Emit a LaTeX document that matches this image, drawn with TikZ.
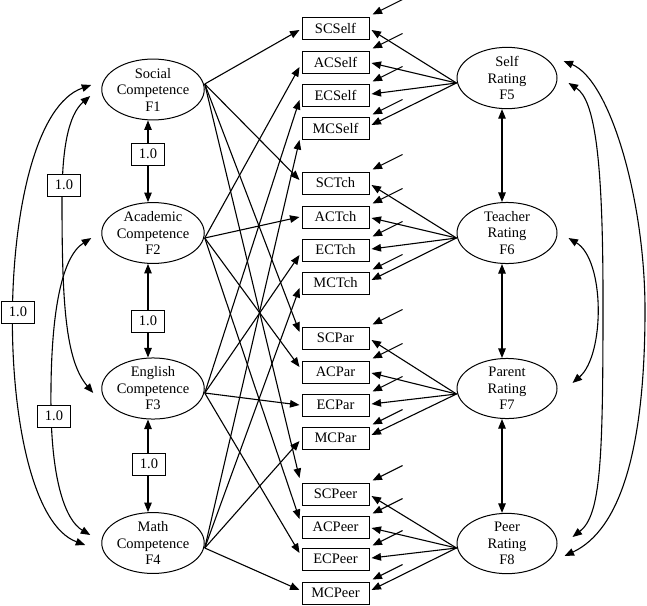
\documentclass[tikz,border=0pt]{standalone}
\usepackage{fontspec}
\setmainfont{Liberation Serif}
\usetikzlibrary{arrows.meta,shapes.geometric}
\begin{document}
\begin{tikzpicture}[x=1pt,y=-1pt,
  every node/.style={font=\fontsize{14.5}{16.5}\selectfont},
  fac/.style={draw, ellipse, line width=1pt, minimum width=100pt, minimum height=55pt, inner sep=0pt, align=center},
  ind/.style={draw, rectangle, line width=1pt, minimum width=67pt, minimum height=22pt, inner sep=0pt},
  lab/.style={draw, fill=white, rectangle, line width=1pt, minimum width=33pt, minimum height=22pt, inner sep=0pt},
  arr/.style={line width=1.1pt, -{Triangle[length=9.5pt,width=7.5pt]}},
  darr/.style={line width=1.1pt, {Triangle[length=9.5pt,width=7.5pt]}-{Triangle[length=9.5pt,width=7.5pt]}},
]
\useasboundingbox (0,0) rectangle (647,605);

% trait factors
\node[fac] (F1) at (153,89.5) {Social\\Competence\\F1};
\node[fac] (F2) at (153,233) {Academic\\Competence\\F2};
\node[fac] (F3) at (153,388.5) {English\\Competence\\F3};
\node[fac] (F4) at (153,543) {Math\\Competence\\F4};
% method factors
\node[fac] (F5) at (507,78) {Self\\Rating\\F5};
\node[fac] (F6) at (507,233) {Teacher\\Rating\\F6};
\node[fac] (F7) at (507,388.5) {Parent\\Rating\\F7};
\node[fac] (F8) at (507,543.5) {Peer\\Rating\\F8};

% indicators
\node[ind] (SCSelf) at (335.5,28) {SCSelf};
\node[ind] (ACSelf) at (335.5,62) {ACSelf};
\node[ind] (ECSelf) at (335.5,95) {ECSelf};
\node[ind] (MCSelf) at (335.5,128) {MCSelf};
\node[ind] (SCTch) at (335.5,183) {SCTch};
\node[ind] (ACTch) at (335.5,217) {ACTch};
\node[ind] (ECTch) at (335.5,250) {ECTch};
\node[ind] (MCTch) at (335.5,283) {MCTch};
\node[ind] (SCPar) at (335.5,338) {SCPar};
\node[ind] (ACPar) at (335.5,372) {ACPar};
\node[ind] (ECPar) at (335.5,405) {ECPar};
\node[ind] (MCPar) at (335.5,438) {MCPar};
\node[ind] (SCPeer) at (335.5,494) {SCPeer};
\node[ind] (ACPeer) at (335.5,527) {ACPeer};
\node[ind] (ECPeer) at (335.5,559) {ECPeer};
\node[ind] (MCPeer) at (335.5,593) {MCPeer};

% convergence points
\coordinate (F1e) at ([shift={(0,-5.5)}]F1.east);
\coordinate (F2e) at ([shift={(0,5)}]F2.east);
\coordinate (F3e) at ([shift={(0,4.5)}]F3.east);
\coordinate (F4e) at ([shift={(0,5)}]F4.east);
\coordinate (F5w) at ([shift={(0,5)}]F5.west);
\coordinate (F6w) at ([shift={(0,5)}]F6.west);
\coordinate (F7w) at ([shift={(0,5.5)}]F7.west);
\coordinate (F8w) at ([shift={(0,4.5)}]F8.west);

% trait loadings
\draw[arr] (F1e) -- ([shift={(-2,2)}]SCSelf.west);
\draw[arr] (F1e) -- ([shift={(-2,-3)}]SCTch.west);
\draw[arr] (F1e) -- ([shift={(-2,-6)}]SCPar.west);
\draw[arr] (F1e) -- ([shift={(-2,-16)}]SCPeer.west);
\draw[arr] (F2e) -- ([shift={(-2,5)}]ACSelf.west);
\draw[arr] (F2e) -- ([shift={(-2,0)}]ACTch.west);
\draw[arr] (F2e) -- ([shift={(-2,-5)}]ACPar.west);
\draw[arr] (F2e) -- ([shift={(-2,-8)}]ACPeer.west);
\draw[arr] (F3e) -- ([shift={(-2,5)}]ECSelf.west);
\draw[arr] (F3e) -- ([shift={(-2,5)}]ECTch.west);
\draw[arr] (F3e) -- ([shift={(-2,0)}]ECPar.west);
\draw[arr] (F3e) -- ([shift={(-2,-6)}]ECPeer.west);
\draw[arr] (F4e) -- ([shift={(-2,12)}]MCSelf.west);
\draw[arr] (F4e) -- ([shift={(-2,5)}]MCTch.west);
\draw[arr] (F4e) -- ([shift={(-2,3)}]MCPar.west);
\draw[arr] (F4e) -- ([shift={(-2,-3)}]MCPeer.west);

% method loadings
\foreach \m/\a/\b/\c/\d in {F5w/SCSelf/ACSelf/ECSelf/MCSelf, F6w/SCTch/ACTch/ECTch/MCTch, F7w/SCPar/ACPar/ECPar/MCPar, F8w/SCPeer/ACPeer/ECPeer/MCPeer}{
  \draw[arr] (\m) -- ([shift={(2,2)}]\a.east);
  \draw[arr] (\m) -- ([shift={(2,1)}]\b.east);
  \draw[arr] (\m) -- ([shift={(2,-1)}]\c.east);
  \draw[arr] (\m) -- ([shift={(2,-3)}]\d.east);
}

% error terms
\foreach \n in {SCSelf,ACSelf,ECSelf,MCSelf,SCTch,ACTch,ECTch,MCTch,SCPar,ACPar,ECPar,MCPar,SCPeer,ACPeer,ECPeer,MCPeer}{
  \coordinate (e\n) at ([shift={(33,-17)}]\n.north east);
  \draw[arr] (e\n) -- ([shift={(3,-2)}]\n.north east);
}

% factor correlations (vertical)
\draw[darr] ([shift={(-5,0)}]F1.south) -- ([shift={(-5,0)}]F2.north);
\draw[darr] ([shift={(-5,0)}]F2.south) -- ([shift={(-5,0)}]F3.north);
\draw[darr] ([shift={(-5,0)}]F3.south) -- ([shift={(-5,0)}]F4.north);
\draw[darr] ([shift={(-5,0)}]F5.south) -- ([shift={(-5,0)}]F6.north);
\draw[darr] ([shift={(-5,0)}]F6.south) -- ([shift={(-5,0)}]F7.north);
\draw[darr] ([shift={(-5,0)}]F7.south) -- ([shift={(-5,0)}]F8.north);

% curved correlations, left
\coordinate (cC1) at ([shift={(-10,-4.5)}]F1.west);
\coordinate (cA1) at ([shift={(-11,6.5)}]F1.west);
\coordinate (cB2) at ([shift={(-10,5)}]F2.west);
\coordinate (cA3) at ([shift={(-8,4.5)}]F3.west);
\coordinate (cB4) at ([shift={(-11,-8)}]F4.west);
\coordinate (cC4) at ([shift={(-16,2)}]F4.west);
\draw[darr] (cC1) .. controls (-10,120) and (-10,510) .. (cC4);
\draw[darr] (cA1) .. controls (68,115) and (62,150) .. (62,200) .. controls (62,300) and (65,360) .. (cA3);
\draw[darr] (cB2) .. controls (60,258) and (50,320) .. (51,410) .. controls (52,480) and (65,520) .. (cB4);

% curved correlations, right
\coordinate (cR1a) at ([shift={(6,-17)}]F5.east);
\coordinate (cR2a) at ([shift={(11,5)}]F5.east);
\coordinate (cR3a) at ([shift={(11,5)}]F6.east);
\coordinate (cR3b) at ([shift={(15,-5.5)}]F7.east);
\coordinate (cR2b) at ([shift={(15,-6.5)}]F8.east);
\coordinate (cR1b) at ([shift={(7,12.5)}]F8.east);
\draw[darr] (cR1a) .. controls (610,80) and (645,200) .. (645,310) .. controls (645,450) and (620,530) .. (cR1b);
\draw[darr] (cR2a) .. controls (595,100) and (603,160) .. (603,300) .. controls (603,460) and (601,515) .. (cR2b);
\draw[darr] (cR3a) .. controls (605,260) and (605,355) .. (cR3b);

% labels
\node[lab] (L12) at (148,154) {1.0};
\node[lab] (L23) at (148,321) {1.0};
\node[lab] (L34) at (149,464) {1.0};
\node[lab] (LA) at (64,185) {1.0};
\node[lab] (LB) at (54,416) {1.0};
\node[lab] (LC) at (18,312) {1.0};
\end{tikzpicture}
\end{document}
